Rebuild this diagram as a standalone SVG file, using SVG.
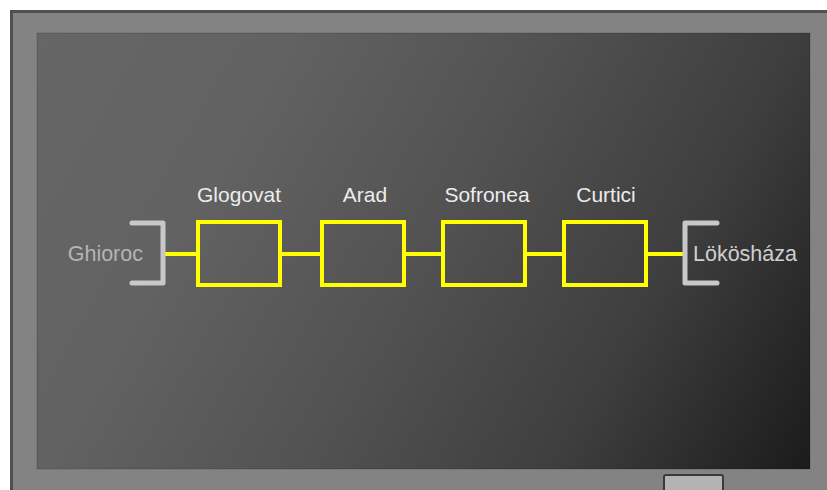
<svg xmlns="http://www.w3.org/2000/svg" width="827" height="490" viewBox="0 0 827 490">
  <defs>
    <linearGradient id="screen" gradientUnits="userSpaceOnUse" x1="37" y1="33" x2="810" y2="469">
      <stop offset="0" stop-color="#666666"/>
      <stop offset="0.25" stop-color="#626262"/>
      <stop offset="0.5" stop-color="#525252"/>
      <stop offset="0.75" stop-color="#3e3e3e"/>
      <stop offset="1" stop-color="#1b1b1b"/>
    </linearGradient>
    <style>
      .box { fill: none; stroke: #ffff00; stroke-width: 4; }
      .link { stroke: #ffff00; stroke-width: 4; fill: none; }
      .bracket { fill: none; stroke: #c8c8c8; stroke-width: 5; stroke-linecap: round; stroke-linejoin: round; }
      .lbl { font-family: "Liberation Sans", Arial, sans-serif; font-size: 21px; fill: #ececec; text-anchor: middle; }
      .end { font-family: "Liberation Sans", Arial, sans-serif; font-size: 21.5px; }
    </style>
  </defs>
  <rect x="0" y="0" width="827" height="490" fill="#ffffff"/>
  <rect x="11.5" y="11.5" width="830" height="500" fill="#838383" stroke="#4f4f4f" stroke-width="3"/>
  <rect x="37" y="33" width="773" height="436" fill="url(#screen)" stroke="#000" stroke-opacity="0.08" stroke-width="2"/>
  <rect x="664" y="475" width="59" height="22" rx="2" fill="#b3b3b3" stroke="#3a3a3a" stroke-width="2"/>

  <g id="connectors">
    <line class="link" x1="163" y1="254" x2="198" y2="254"/>
    <line class="link" x1="280" y1="254" x2="322" y2="254"/>
    <line class="link" x1="404" y1="254" x2="443" y2="254"/>
    <line class="link" x1="525" y1="254" x2="564" y2="254"/>
    <line class="link" x1="646" y1="254" x2="685" y2="254"/>
  </g>

  <g id="ghioroc">
    <path class="bracket" d="M132 223 H163 V283 H132"/>
    <text class="end" x="143" y="261" text-anchor="end" fill="#b4b4b4">Ghioroc</text>
  </g>
  <g id="glogovat">
    <rect class="box" x="198" y="222" width="82" height="63"/>
    <text class="lbl" x="239" y="202">Glogovat</text>
  </g>
  <g id="arad">
    <rect class="box" x="322" y="222" width="82" height="63"/>
    <text class="lbl" x="365" y="202">Arad</text>
  </g>
  <g id="sofronea">
    <rect class="box" x="443" y="222" width="82" height="63"/>
    <text class="lbl" x="487" y="202">Sofronea</text>
  </g>
  <g id="curtici">
    <rect class="box" x="564" y="222" width="82" height="63"/>
    <text class="lbl" x="606" y="202">Curtici</text>
  </g>
  <g id="lokoshaza">
    <path class="bracket" d="M717 223 H685 V283 H717"/>
    <text class="end" x="693" y="261" fill="#cfcfcf">Lökösháza</text>
  </g>
</svg>
